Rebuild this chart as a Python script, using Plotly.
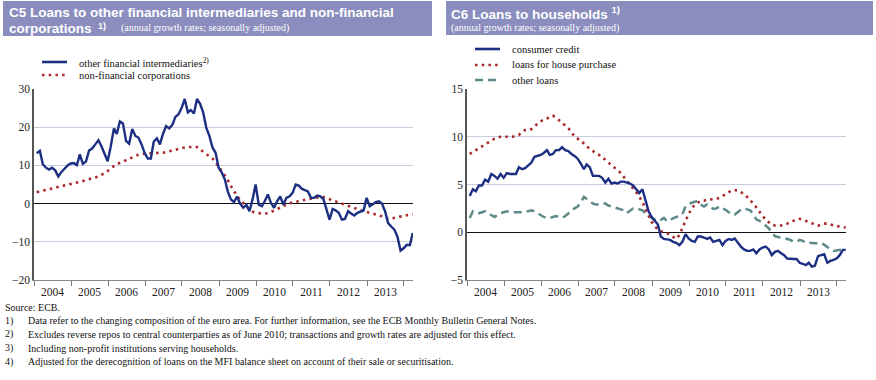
import plotly.graph_objects as go

# ---------------- data (monthly, Jan 2004 - Mar 2014) ----------------
start_year = 2004
n_months = 123

ofi = [13.2, 13.8, 10.3, 9.4, 8.9, 9.4, 8.7, 7.1, 8.3, 9.2, 10.0, 10.5,
       10.6, 10.1, 12.9, 10.4, 11.0, 13.9, 14.4, 15.5, 16.6, 15.0, 13.0, 11.1,
       15.0, 19.7, 18.2, 21.5, 21.0, 16.4, 15.7, 19.5, 17.7, 17.3, 15.5, 13.3,
       11.8, 11.8, 16.2, 17.1, 15.5, 18.3, 20.3, 19.7, 20.6, 22.7, 23.4, 25.0,
       27.4, 23.9, 24.5, 23.6, 27.4, 26.1, 23.9, 19.9, 17.7, 14.7, 13.3, 9.4,
       8.1, 6.3, 3.2, 1.1, 0.4, 1.8, 0.0, -1.1, -0.3, -2.0, 1.1, 5.0,
       -0.3, -0.7, 0.6, 2.4, 0.2, -1.1, 0.6, 1.9, -0.3, 1.5, 1.9, 2.8,
       5.0, 4.7, 3.9, 3.6, 3.2, 1.5, 1.5, 2.1, 1.9, 1.2, -1.6, -4.2,
       -1.4, -1.8, -2.4, -4.2, -4.0, -2.0, -2.6, -3.1, -2.4, -2.0, -1.8, 1.5,
       -0.7, -0.2, 0.4, 0.6, 0.0, -2.0, -5.1, -6.0, -6.8, -8.6, -12.3, -11.7,
       -10.8, -10.9, -7.7]

nfc = [3.0, 3.2, 3.4, 3.6, 3.8, 4.0, 4.2, 4.4, 4.6, 4.7, 4.8, 5.0,
       5.2, 5.4, 5.6, 5.9, 6.1, 6.4, 6.6, 6.8, 7.1, 7.5, 8.0, 8.5,
       9.3, 9.8, 10.3, 10.7, 11.0, 11.4, 11.8, 12.2, 12.5, 12.8, 13.0, 13.1,
       13.2, 13.2, 13.2, 13.3, 13.3, 13.3, 13.5, 13.8, 14.0, 14.2, 14.4, 14.6,
       14.7, 14.8, 14.8, 14.8, 14.8, 14.3, 13.5, 13.0, 12.4, 11.8, 10.8, 9.8,
       8.5, 7.3, 6.2, 4.6, 3.2, 2.0, 1.0, 0.0, -0.7, -1.5, -2.1, -2.4,
       -2.6, -2.6, -2.6, -2.5, -2.2, -1.8, -1.3, -0.9, -0.5, -0.2, 0.1, 0.3,
       0.4, 0.6, 0.8, 1.0, 1.1, 1.3, 1.5, 1.7, 1.8, 1.7, 1.4, 1.1,
       0.8, 0.5, 0.2, 0.0, -0.2, -0.5, -0.8, -1.1, -1.4, -1.8, -2.0, -2.2,
       -2.4, -2.6, -2.8, -3.0, -3.3, -3.7, -4.0, -3.9, -3.7, -3.5, -3.3, -3.2,
       -3.0, -2.9, -2.8]

consumer = [3.8, 4.5, 4.3, 4.9, 4.9, 5.5, 5.3, 6.1, 5.9, 5.6, 6.1, 5.7,
            6.2, 6.1, 6.1, 6.1, 6.8, 6.6, 6.7, 7.0, 7.3, 7.9, 8.0, 8.1,
            8.3, 8.6, 8.1, 8.2, 8.6, 8.6, 8.9, 8.6, 8.5, 8.2, 8.0, 7.7,
            7.2, 6.6, 7.1, 6.8, 5.9, 5.9, 5.9, 5.7, 5.2, 5.6, 5.1, 5.2,
            5.1, 5.3, 5.3, 5.2, 5.1, 4.9, 4.5, 4.1, 4.5, 3.3, 2.2, 1.6,
            1.2, 0.8, -0.45, -0.7, -0.75, -0.8, -1.0, -1.1, -1.35, -1.0, -0.2, -0.65,
            -0.9, -1.0, -0.45, -0.45, -0.55, -0.7, -0.55, -1.0, -0.9, -0.8, -1.35, -0.9,
            -0.7, -0.8, -0.65, -1.15, -1.5, -1.8, -1.95, -1.95, -1.8, -2.2, -1.8, -1.6,
            -1.5, -1.8, -2.4, -2.05, -1.95, -2.2, -2.4, -2.75, -2.8, -2.8, -2.8, -3.2,
            -3.3, -3.45, -3.2, -3.6, -3.5, -2.5, -2.4, -2.3, -3.2, -3.0, -2.9, -2.75,
            -2.4, -1.85, -1.85]

house = [8.2, 8.4, 8.6, 8.8, 9.0, 9.2, 9.4, 9.6, 9.8, 9.9, 10.0, 10.0,
         10.0, 10.0, 10.0, 10.1, 10.2, 10.5, 10.7, 10.7, 10.8, 11.1, 11.4, 11.6,
         11.8, 11.9, 12.1, 12.2, 12.0, 11.7, 11.5, 11.2, 10.9, 10.5, 10.0, 9.8,
         9.6, 9.3, 9.0, 8.7, 8.5, 8.3, 8.1, 7.8, 7.6, 7.3, 7.0, 6.8,
         6.5, 6.2, 5.8, 5.4, 5.0, 4.6, 4.2, 3.7, 3.2, 2.4, 1.7, 1.1,
         0.6, 0.3, 0.1, 0.0, -0.1, -0.3, -0.5, -0.7, -0.3, 0.5, 1.2, 1.9,
         2.5, 2.9, 3.1, 3.3, 3.3, 3.4, 3.4, 3.5, 3.5, 3.6, 3.8, 4.0,
         4.2, 4.4, 4.4, 4.4, 4.2, 4.0, 3.7, 3.4, 3.0, 2.6, 2.1, 1.7,
         1.3, 1.0, 0.8, 0.7, 0.7, 0.7, 0.8, 0.9, 1.1, 1.2, 1.3, 1.4,
         1.3, 1.2, 1.1, 0.95, 0.8, 0.7, 0.8, 0.9, 0.9, 0.8, 0.7, 0.65,
         0.6, 0.55, 0.5]

other = [1.5, 2.2, 2.1, 2.0, 2.1, 2.2, 2.0, 1.8, 1.6, 1.8, 2.0, 2.1,
         2.2, 2.1, 2.1, 2.1, 2.1, 2.1, 2.2, 2.2, 2.3, 2.2, 2.0, 1.8,
         1.6, 1.5, 1.5, 1.6, 1.7, 1.6, 1.5, 1.7, 2.0, 2.3, 2.5, 2.7,
         3.1, 3.7, 3.5, 3.2, 3.0, 2.9, 2.9, 3.0, 3.0, 2.8, 2.7, 2.6,
         2.5, 2.4, 2.3, 2.0, 2.2, 2.5, 2.5, 2.4, 2.3, 2.0, 1.8, 1.5,
         1.3, 1.15, 1.3, 1.5, 1.15, 1.3, 1.5, 1.6, 1.7, 1.9, 2.7, 2.9,
         3.1, 3.2, 3.25, 2.9, 2.7, 2.9, 2.7, 2.45, 2.5, 2.7, 2.5, 2.35,
         2.1, 1.9, 1.85, 2.1, 2.35, 2.5, 2.4, 2.3, 1.9, 1.35, 1.2, 1.0,
         0.7, 0.4, 0.0, -0.4, -0.5, -0.55, -0.6, -0.7, -0.8, -1.0, -1.0, -0.8,
         -0.9, -1.1, -1.1, -1.15, -1.15, -1.15, -1.15, -1.3, -1.6, -1.8, -1.95, -1.9,
         -1.8, -1.8, -1.8]

left_names = ["other financial intermediaries", "non-financial corporations"]
right_names = ["consumer credit", "loans for house purchase", "other loans"]

dates = [f"{start_year + i // 12}-{i % 12 + 1:02d}-28" for i in range(n_months)]

# ---------------- styling ----------------
W, H = 876, 380
BLUE = "#1c2f82"
RED = "#a8282c"
TEAL = "#5e8a8a"
BAR = "#8a8dbe"
GRID = "#c9cbdf"
SERIF = "Liberation Serif, Times New Roman, serif"
SANS = "Liberation Sans, Arial, sans-serif"
DOT = "2.5px,4.2px"
DASH = "8px,5px"


def px(x):
    return x / W


def py(y):
    return 1 - y / H


fig = go.Figure()

fig.add_trace(go.Scatter(x=dates, y=nfc, xaxis="x", yaxis="y", mode="lines",
                         line=dict(color=RED, width=2.6, dash=DOT), showlegend=False, hoverinfo="skip"))
fig.add_trace(go.Scatter(x=dates, y=ofi, xaxis="x", yaxis="y", mode="lines",
                         line=dict(color=BLUE, width=2.4), showlegend=False))

fig.add_trace(go.Scatter(x=dates, y=other, xaxis="x2", yaxis="y2", mode="lines",
                         line=dict(color=TEAL, width=2.5, dash=DASH), showlegend=False))
fig.add_trace(go.Scatter(x=dates, y=house, xaxis="x2", yaxis="y2", mode="lines",
                         line=dict(color=RED, width=2.6, dash=DOT), showlegend=False))
fig.add_trace(go.Scatter(x=dates, y=consumer, xaxis="x2", yaxis="y2", mode="lines",
                         line=dict(color=BLUE, width=2.4), showlegend=False))

ydom = [py(280), py(89)]
xrange_ = ["2004-01-01", "2014-03-31"]
tickfont = dict(family=SERIF, size=11.5, color="#222")

xcommon = dict(type="date", range=xrange_, dtick="M12", tick0="2004-01-01",
               ticklabelmode="period", tickformat="%Y", ticks="outside", ticklen=5,
               tickcolor="#777", showgrid=False, showline=True, linecolor="#888",
               linewidth=1, tickfont=tickfont, fixedrange=True, automargin=False,
               ticklabelstandoff=-4)
ycommon = dict(showgrid=True, gridcolor=GRID, gridwidth=1, zeroline=True,
               zerolinecolor="#111", zerolinewidth=1, showline=True,
               linecolor="#555", linewidth=1.5, ticks="", tickfont=tickfont,
               fixedrange=True, automargin=False)
yright = dict(showgrid=False, zeroline=False, showline=True, linecolor="#555",
              linewidth=1.5, ticks="", tickfont=tickfont, fixedrange=True, automargin=False)

fig.update_layout(
    xaxis=dict(domain=[px(34), px(413)], anchor="y", **xcommon),
    xaxis2=dict(domain=[px(467), px(846)], anchor="y2", **xcommon),
    yaxis=dict(domain=ydom, anchor="x", range=[-20, 30], dtick=10, **ycommon),
    yaxis3=dict(overlaying="y", side="right", anchor="x", range=[-20, 30], dtick=10, **yright),
    yaxis2=dict(domain=ydom, anchor="x2", range=[-5, 15], dtick=5, **ycommon),
    yaxis4=dict(overlaying="y2", side="right", anchor="x2", range=[-5, 15], dtick=5, **yright),
    width=W, height=H, margin=dict(l=0, r=0, t=0, b=0, pad=0, autoexpand=False),
    paper_bgcolor="white", plot_bgcolor="white", showlegend=False,
)

shapes = []
annotations = []

# title bars
shapes.append(dict(type="rect", xref="paper", yref="paper", x0=px(3), x1=px(432),
                   y0=py(36), y1=py(1), fillcolor=BAR, line=dict(width=0), layer="below"))
shapes.append(dict(type="rect", xref="paper", yref="paper", x0=px(446), x1=px(873),
                   y0=py(35), y1=py(1), fillcolor=BAR, line=dict(width=0), layer="below"))


def text(x, y, s, size=10.5, family=SERIF, color="#111", anchor="left"):
    annotations.append(dict(x=px(x), y=py(y), xref="paper", yref="paper", text=s,
                            showarrow=False, xanchor=anchor, yanchor="middle",
                            borderpad=0,
                            font=dict(family=family, size=size, color=color)))


TF = 13.5
text(8, 13, "<b>C5 Loans to other financial intermediaries and non-financial</b>", TF, SANS, "white")
text(8, 28, "<b>corporations</b>", TF, SANS, "white")
text(97, 25.5, "<b>1)</b>", 9, SANS, "white")
text(120, 28, "(annual growth rates; seasonally adjusted)", 10, SERIF, "white")
text(450, 13, "<b>C6 Loans to households <sup>1)</sup></b>", TF, SANS, "white")
text(450, 28, "(annual growth rates; seasonally adjusted)", 10, SERIF, "white")


# legends (keys drawn as short lines)
def key(x0, x1, y, color, dash):
    shapes.append(dict(type="line", xref="paper", yref="paper", x0=px(x0), x1=px(x1),
                       y0=py(y), y1=py(y), line=dict(color=color, width=2.6, dash=dash)))


key(42, 67, 62, BLUE, "solid")
key(42, 67, 75, RED, DOT)
text(78, 62, left_names[0] + "<sup>2)</sup>", 10.5)
text(78, 75, left_names[1], 10.5)

key(475, 500, 49, BLUE, "solid")
key(475, 500, 65, RED, DOT)
key(475, 500, 80, TEAL, DASH)
text(511, 49, right_names[0], 10.5)
text(511, 65, right_names[1], 10.5)
text(511, 80, right_names[2], 10.5)

# footnotes
notes = [
    ("", "Source: ECB."),
    ("1)", "Data refer to the changing composition of the euro area. For further information, see the ECB Monthly Bulletin General Notes."),
    ("2)", "Excludes reverse repos to central counterparties as of June 2010; transactions and growth rates are adjusted for this effect."),
    ("3)", "Including non-profit institutions serving households."),
    ("4)", "Adjusted for the derecognition of loans on the MFI balance sheet on account of their sale or securitisation."),
]
yy = 307
for num, s in notes:
    if num:
        text(4, yy, num, 10)
        text(27, yy, s, 10)
    else:
        text(4, yy, s, 10)
    yy += 13.7

fig.update_layout(shapes=shapes, annotations=annotations)
fig.write_html("out.html", config={"displayModeBar": False},
               post_script="document.body.style.margin='0';document.body.style.overflow='hidden';")
